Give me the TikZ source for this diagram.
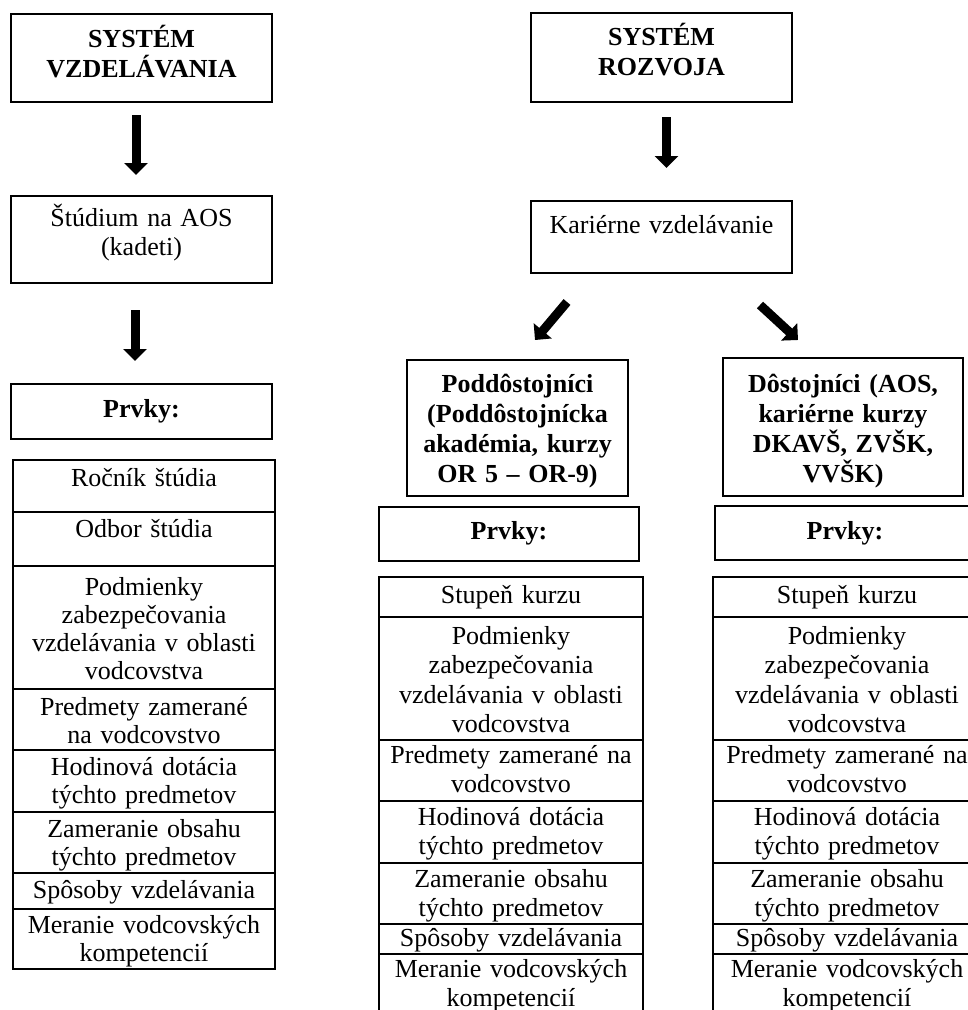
\documentclass[tikz,border=0pt]{standalone}
\usepackage{fontspec}
\setmainfont{Liberation Serif}
\usetikzlibrary{arrows.meta}
\tikzset{
  cellbox/.style={draw=black, line width=1.2pt, inner sep=0pt, outer sep=0pt, rectangle, anchor=north west},
  ltxt/.style={anchor=base, inner sep=0pt, align=center, text width=252pt, font=\fontsize{26}{28.3}\selectfont},
  rtxt/.style={anchor=base, inner sep=0pt, align=center, text width=256pt, font=\fontsize{26}{29.5}\selectfont},
  btxt/.style={anchor=base, inner sep=0pt, align=center, text width=#1, font=\fontsize{26}{30}\selectfont\bfseries},
  btxt/.default=240pt,
  bigarrow/.style={line width=9pt, -{Triangle[width=23pt,length=12pt]}}
}
\begin{document}
\begin{tikzpicture}[x=1pt,y=-1pt]
\useasboundingbox (0,0) rectangle (968,1010);
\clip (0,0) rectangle (968,1010);

% ---------- left column ----------
\node[cellbox, minimum width=261pt, minimum height=88pt] (sv) at (11,14) {};
\node[btxt] (svt) at (141.5,47) {SYSTÉM\\VZDELÁVANIA};
\node[cellbox, minimum width=261pt, minimum height=87pt] (st) at (11,196) {};
\node[rtxt] (stt) at (141.5,226) {Štúdium na AOS\\(kadeti)};
\node[cellbox, minimum width=261pt, minimum height=55pt] (pl) at (11,384) {};
\node[btxt] (plt) at (141.5,417) {Prvky:};

\node[cellbox, minimum width=262pt, minimum height=52pt] (L1) at (13,460) {};
\node[cellbox, minimum width=262pt, minimum height=54pt] (L2) at (13,512) {};
\node[cellbox, minimum width=262pt, minimum height=123pt] (L3) at (13,566) {};
\node[cellbox, minimum width=262pt, minimum height=61pt] (L4) at (13,689) {};
\node[cellbox, minimum width=262pt, minimum height=62pt] (L5) at (13,750) {};
\node[cellbox, minimum width=262pt, minimum height=61pt] (L6) at (13,812) {};
\node[cellbox, minimum width=262pt, minimum height=36pt] (L7) at (13,873) {};
\node[cellbox, minimum width=262pt, minimum height=60pt] (L8) at (13,909) {};

\node[ltxt] (tL1) at (144,486) {Ročník štúdia};
\node[ltxt] (tL2) at (144,537) {Odbor štúdia};
\node[ltxt] (tL3) at (144,595) {Podmienky\\zabezpečovania\\vzdelávania v oblasti\\vodcovstva};
\node[ltxt] (tL4) at (144,715) {Predmety zamerané\\na vodcovstvo};
\node[ltxt] (tL5) at (144,775) {Hodinová dotácia\\týchto predmetov};
\node[ltxt] (tL6) at (144,837) {Zameranie obsahu\\týchto predmetov};
\node[ltxt] (tL7) at (144,898) {Spôsoby vzdelávania};
\node[ltxt] (tL8) at (144,933) {Meranie vodcovských\\kompetencií};

\draw[bigarrow] ([xshift=-5.5pt,yshift=-13pt]sv.south) -- ([xshift=-5.5pt,yshift=21pt]st.north);
\draw[bigarrow] ([xshift=-6.5pt,yshift=-27pt]st.south) -- ([xshift=-6.5pt,yshift=23pt]pl.north);

% ---------- right part ----------
\node[cellbox, minimum width=261pt, minimum height=89pt] (sr) at (531,13) {};
\node[btxt] (srt) at (661.5,45) {SYSTÉM\\ROZVOJA};
\node[cellbox, minimum width=261pt, minimum height=72pt] (kv) at (531,201) {};
\node[rtxt] (kvt) at (661.5,233) {Kariérne vzdelávanie};

\node[cellbox, minimum width=221pt, minimum height=136pt] (pod) at (407,360) {};
\node[btxt=215pt] (podt) at (517.5,392) {Poddôstojníci\\(Poddôstojnícka\\akadémia, kurzy\\OR 5 – OR-9)};
\node[cellbox, minimum width=240pt, minimum height=138pt] (dos) at (723,358) {};
\node[btxt=234pt] (dost) at (843,392) {Dôstojníci (AOS,\\kariérne kurzy\\DKAVŠ, ZVŠK,\\VVŠK)};

\node[cellbox, minimum width=260pt, minimum height=54pt] (pa) at (379,507) {};
\node[btxt] (pat) at (509,539) {Prvky:};
\node[cellbox, minimum width=260pt, minimum height=54pt] (pb) at (715,506) {};
\node[btxt] (pbt) at (845,539) {Prvky:};

\draw[bigarrow] ([xshift=5pt,yshift=-15pt]sr.south) -- ([xshift=5pt,yshift=33pt]kv.north);
\draw[bigarrow] ([shift={(-94.5,29)}]kv.south) -- ([shift={(17.5,-20)}]pod.north);
\draw[bigarrow] ([shift={(98.5,32)}]kv.south) -- ([shift={(-45,-18)}]dos.north);

% table A
\node[cellbox, minimum width=264pt, minimum height=40pt] (A1) at (379,577) {};
\node[cellbox, minimum width=264pt, minimum height=123pt] (A2) at (379,617) {};
\node[cellbox, minimum width=264pt, minimum height=61pt] (A3) at (379,740) {};
\node[cellbox, minimum width=264pt, minimum height=62pt] (A4) at (379,801) {};
\node[cellbox, minimum width=264pt, minimum height=61pt] (A5) at (379,863) {};
\node[cellbox, minimum width=264pt, minimum height=30pt] (A6) at (379,924) {};
\node[cellbox, minimum width=264pt, minimum height=80pt] (A7) at (379,954) {};

\node[rtxt] (tA1) at (511,603) {Stupeň kurzu};
\node[rtxt] (tA2) at (511,644) {Podmienky\\zabezpečovania\\vzdelávania v oblasti\\vodcovstva};
\node[rtxt] (tA3) at (511,763) {Predmety zamerané na\\vodcovstvo};
\node[rtxt] (tA4) at (511,825) {Hodinová dotácia\\týchto predmetov};
\node[rtxt] (tA5) at (511,887) {Zameranie obsahu\\týchto predmetov};
\node[rtxt] (tA6) at (511,946) {Spôsoby vzdelávania};
\node[rtxt] (tA7) at (511,977) {Meranie vodcovských\\kompetencií};

% table B
\node[cellbox, minimum width=268pt, minimum height=40pt] (B1) at (713,577) {};
\node[cellbox, minimum width=268pt, minimum height=123pt] (B2) at (713,617) {};
\node[cellbox, minimum width=268pt, minimum height=61pt] (B3) at (713,740) {};
\node[cellbox, minimum width=268pt, minimum height=62pt] (B4) at (713,801) {};
\node[cellbox, minimum width=268pt, minimum height=61pt] (B5) at (713,863) {};
\node[cellbox, minimum width=268pt, minimum height=30pt] (B6) at (713,924) {};
\node[cellbox, minimum width=268pt, minimum height=80pt] (B7) at (713,954) {};

\node[rtxt] (tB1) at (847,603) {Stupeň kurzu};
\node[rtxt] (tB2) at (847,644) {Podmienky\\zabezpečovania\\vzdelávania v oblasti\\vodcovstva};
\node[rtxt] (tB3) at (847,763) {Predmety zamerané na\\vodcovstvo};
\node[rtxt] (tB4) at (847,825) {Hodinová dotácia\\týchto predmetov};
\node[rtxt] (tB5) at (847,887) {Zameranie obsahu\\týchto predmetov};
\node[rtxt] (tB6) at (847,946) {Spôsoby vzdelávania};
\node[rtxt] (tB7) at (847,977) {Meranie vodcovských\\kompetencií};
\end{tikzpicture}
\end{document}
